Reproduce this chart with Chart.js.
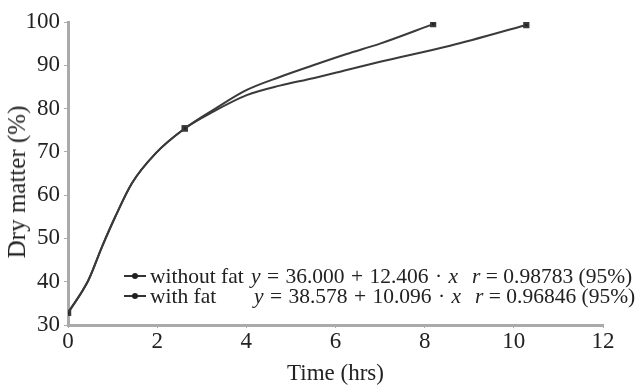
<!DOCTYPE html>
<html>
<head>
<meta charset="utf-8">
<script src="https://cdn.jsdelivr.net/npm/chart.js@4"></script>
<style>
  html, body { margin: 0; padding: 0; background: #fff; }
  #wrap { position: relative; width: 640px; height: 388px; font-family: "Liberation Serif", serif; color: #222; }
  #ytitle {
    position: absolute; left: 17px; top: 182px; font-size: 25px; white-space: nowrap;
    transform: translate(-50%, -50%) rotate(-90deg);
  }
  .row { position: absolute; left: 0; height: 22px; line-height: 22px; font-size: 21.5px; white-space: nowrap; }
  .row span { position: absolute; top: 0; }
  .eq { word-spacing: 1px; }
  .mark { position: absolute; width: 22px; height: 2px; background: #333; }
  .mark::after { content: ""; position: absolute; left: 8px; top: -2px; width: 6px; height: 6px; border-radius: 3px; background: #222; }
  i { font-style: italic; }
</style>
</head>
<body>
<div id="wrap">
  <canvas id="chart" width="640" height="388"></canvas>
  <div id="ytitle">Dry matter (%)</div>
  <div class="row" style="top:265px;">
    <div class="mark" style="left:124px; top:10px;"></div>
    <span style="left:150px;">without fat</span>
    <span class="eq" style="left:251px;"><i>y</i> = 36.000 + 12.406 · <i>x</i></span>
    <span style="left:472px;"><i>r</i> = 0.98783 (95%)</span>
  </div>
  <div class="row" style="top:285px;">
    <div class="mark" style="left:124px; top:10px;"></div>
    <span style="left:150px;">with fat</span>
    <span class="eq" style="left:254px;"><i>y</i> = 38.578 + 10.096 · <i>x</i></span>
    <span style="left:475px;"><i>r</i> = 0.96846 (95%)</span>
  </div>
</div>
<script>
// values
const timeWithout = [0, 0.46, 0.76, 1.06, 1.43, 1.96, 2.62, 3.26, 4.01, 4.75, 5.5, 6.25, 7.0, 8.19];
const dryWithout  = [32.8, 40.4, 48, 55, 62.7, 69.6, 75.4, 79.7, 84.3, 87.3, 90.0, 92.6, 95.0, 99.5];
const markWithout = [1, 0, 0, 0, 0, 0, 1, 0, 0, 0, 0, 0, 0, 1];

const timeWith = [0, 0.46, 0.76, 1.06, 1.43, 1.96, 2.62, 3.26, 4.01, 4.75, 5.5, 6.25, 7.0, 8.57, 10.28];
const dryWith  = [32.8, 40.4, 48, 55, 62.7, 69.6, 75.4, 79.3, 83.1, 85.3, 87.0, 88.9, 90.8, 94.5, 99.3];
const markWith = [1, 0, 0, 0, 0, 0, 1, 0, 0, 0, 0, 0, 0, 0, 1];

const xTicks = [0, 2, 4, 6, 8, 10, 12];
const yTicks = [30, 40, 50, 60, 70, 80, 90, 100];

const font = { family: "Liberation Serif", size: 23 };

function series(label, xs, ys, marks) {
  return {
    label: label,
    data: xs.map((x, i) => ({ x: x, y: ys[i] })),
    borderColor: "#3a3a3a",
    backgroundColor: "#222",
    borderWidth: 2,
    pointStyle: "rect",
    pointRadius: marks.map(m => m ? 3 : 0),
    cubicInterpolationMode: "monotone",
    fill: false
  };
}

new Chart(document.getElementById("chart"), {
  type: "line",
  data: {
    datasets: [
      series("without fat", timeWithout, dryWithout, markWithout),
      series("with fat", timeWith, dryWith, markWith)
    ]
  },
  options: {
    responsive: false,
    animation: false,
    layout: { padding: { left: 0, right: 37, top: 22, bottom: 0 } },
    plugins: { legend: { display: false }, tooltip: { enabled: false } },
    scales: {
      x: {
        type: "linear", min: 0, max: 12,
        afterBuildTicks: s => { s.ticks = xTicks.map(v => ({ value: v })); },
        afterFit: s => { s.height = 63; },
        border: { color: "#aaa", width: 3 },
        grid: { drawOnChartArea: false, color: "#aaa", tickLength: 3 },
        ticks: { font: font, color: "#222", padding: 0, maxRotation: 0 },
        title: { display: true, text: "Time (hrs)", font: font, color: "#222", padding: { top: 0, bottom: 0 } }
      },
      y: {
        min: 30, max: 100,
        afterBuildTicks: s => { s.ticks = yTicks.map(v => ({ value: v })); },
        afterFit: s => { s.width = 68; },
        border: { color: "#aaa", width: 3 },
        grid: { drawOnChartArea: false, color: "#aaa", tickLength: 4 },
        ticks: { font: font, color: "#222", padding: 4 }
      }
    }
  }
});
</script>
</body>
</html>
